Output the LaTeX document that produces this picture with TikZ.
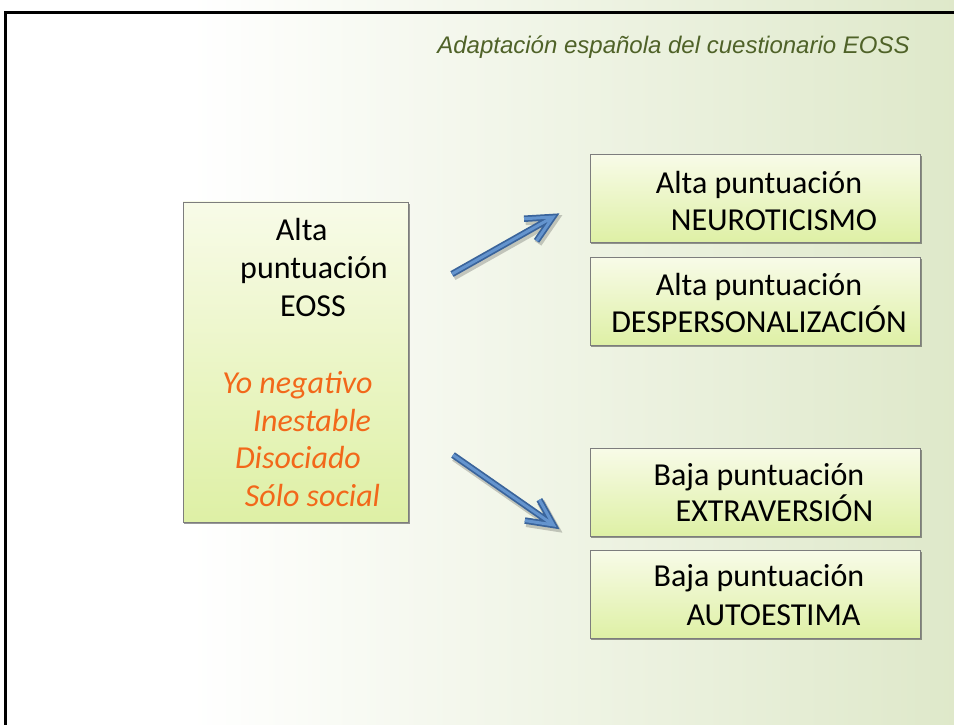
\documentclass[tikz,border=0pt]{standalone}
\usepackage{fontspec}
\setmainfont{Carlito}
\newfontfamily\ttlfont{Liberation Sans}
\usetikzlibrary{arrows.meta,shadows,calc}
\definecolor{titlegreen}{RGB}{79,98,40}
\definecolor{orangetxt}{RGB}{242,104,26}
\definecolor{bgreen}{RGB}{222,232,201}
\definecolor{boxtop}{RGB}{248,251,232}
\definecolor{boxbot}{RGB}{222,240,165}
\definecolor{boxedge}{RGB}{125,125,125}
\definecolor{arrowdark}{RGB}{58,100,155}
\definecolor{arrowlight}{RGB}{100,148,206}
\begin{document}
\begin{tikzpicture}[x=1bp,y=-1bp,
  box/.style={draw=boxedge, line width=0.8pt, top color=boxtop, bottom color=boxbot,
    drop shadow={shadow xshift=1.5pt, shadow yshift=-2pt, opacity=0.5, fill=black!80},
    inner sep=0pt, minimum width=330bp, minimum height=88bp},
  txt/.style={font=\fontsize{32bp}{37bp}\selectfont, anchor=base, inner sep=0pt},
  otxt/.style={font=\fontsize{32bp}{37bp}\selectfont\itshape, text=orangetxt, anchor=base, inner sep=0pt},
  arrowline/.style={line width=6.5bp, draw=arrowdark, line cap=butt, line join=miter,
    preaction={draw=black, opacity=0.2, line width=8bp, transform canvas={shift={(1.5pt,-2.5pt)}}},
    postaction={draw=arrowlight, line width=3bp}}
]
\useasboundingbox (0,0) rectangle (954,725);
% background
\fill[white] (-10,-10) rectangle (965,735);
\shade[left color=white, right color=bgreen] (190,-10) rectangle (965,735);
% frame
\draw[line width=2.5bp, line join=miter] (5.5,735) -- (5.5,12.5) -- (965,12.5);
% title
\node[anchor=base, inner sep=0pt, font=\ttlfont\itshape\fontsize{24bp}{28bp}\selectfont, text=titlegreen]
  (title) at (673.5,54) {Adaptación española del cuestionario EOSS};
% left box
\node[box, minimum width=225bp, minimum height=320bp] (L) at (295.5,362) {};
\node[txt] (L1) at (301.7,240) {Alta};
\node[txt] (L2) at (314,278) {puntuación};
\node[txt] (L3) at (313,316.7) {EOSS};
\node[otxt] (L4) at (297.5,393) {Yo negativo};
\node[otxt] (L5) at (312,431.7) {Inestable};
\node[otxt] (L6) at (298,468.5) {Disociado};
\node[otxt] (L7) at (312.5,506.7) {Sólo social};
% right boxes
\node[box] (R1) at (755,198.5) {};
\node[txt] (R1a) at (759,193.3) {Alta puntuación};
\node[txt] (R1b) at (774,230) {NEUROTICISMO};
\node[box] (R2) at (755,301.5) {};
\node[txt] (R2a) at (759,295) {Alta puntuación};
\node[txt] (R2b) at (759,332.7) {DESPERSONALIZACIÓN};
\node[box] (R3) at (755,492) {};
\node[txt] (R3a) at (759,485) {Baja puntuación};
\node[txt] (R3b) at (774.5,521.7) {EXTRAVERSIÓN};
\node[box] (R4) at (755,594.5) {};
\node[txt] (R4a) at (759,586.7) {Baja puntuación};
\node[txt] (R4b) at (773.5,625) {AUTOESTIMA};
% arrows
\coordinate (a1s) at (452,274);
\coordinate (a1e) at (553,217);
\coordinate (a2s) at (453,455);
\coordinate (a2e) at (553.5,525);
\coordinate (b11) at ($(a1e)!29bp!26:(a1s)$);
\coordinate (b12) at ($(a1e)!29bp!-26:(a1s)$);
\coordinate (b21) at ($(a2e)!29bp!26:(a2s)$);
\coordinate (b22) at ($(a2e)!29bp!-26:(a2s)$);
\draw[arrowline] (a1s) -- (a1e) (b11) -- (a1e) -- (b12);
\draw[arrowline] (a2s) -- (a2e) (b21) -- (a2e) -- (b22);
\end{tikzpicture}
\end{document}
